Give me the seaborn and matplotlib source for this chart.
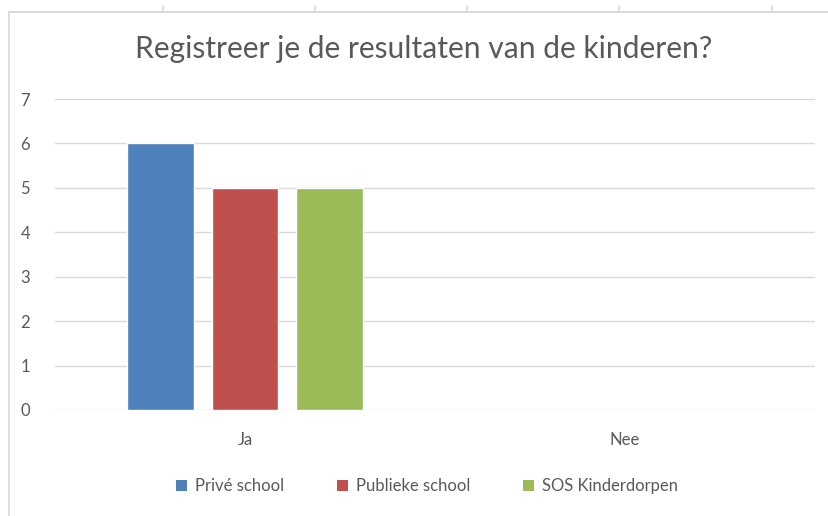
import matplotlib
matplotlib.use("Agg")
import matplotlib.pyplot as plt
import seaborn as sns
import pandas as pd
from matplotlib.lines import Line2D
from matplotlib.patches import Rectangle

categories = ["Ja", "Nee"]
series_names = ["Privé school", "Publieke school", "SOS Kinderdorpen"]
prive = [6, 0]
publiek = [5, 0]
sos = [5, 0]
yticks = [0, 1, 2, 3, 4, 5, 6, 7]
title = "Registreer je de resultaten van de kinderen?"
colors = ["#4F81BD", "#C0504D", "#9BBB59"]

rows = []
for name, vals in zip(series_names, [prive, publiek, sos]):
    for c, v in zip(categories, vals):
        rows.append({"cat": c, "serie": name, "val": v})
df = pd.DataFrame(rows)

sns.set_theme(style="white")
plt.rcParams['font.family'] = ['Lato', 'DejaVu Sans']
txt = "#595959"

fig = plt.figure(figsize=(8.29, 5.16), dpi=100)
fig.patch.set_facecolor("white")
ax = fig.add_axes([55/829, 1-410/516, (815-55)/829, (410-99)/516])

sns.barplot(data=df, x="cat", y="val", hue="serie", order=categories,
            hue_order=series_names, palette=colors, width=0.667, gap=0.21,
            saturation=1, ax=ax, legend=False)

ax.set_ylim(0, 7)
ax.set_yticks(yticks)
ax.set_xlim(-0.5, 1.5)
ax.yaxis.grid(True, color="#D9D9D9", linewidth=1)
ax.set_axisbelow(True)
for s in ax.spines.values():
    s.set_visible(False)
ax.set_xlabel("")
ax.set_ylabel("")
ax.tick_params(axis="y", length=0, pad=18, labelsize=12, labelcolor=txt)
ax.tick_params(axis="x", length=0, pad=16, labelsize=12, labelcolor=txt)
for lab in ax.get_yticklabels():
    lab.set_horizontalalignment("right")

fig.text(424/829, 1-49/516, title, ha="center", va="center", fontsize=21.6, color=txt)

handles = [Rectangle((0, 0), 1, 1, facecolor=c, edgecolor="none") for c in colors]
fig.legend(handles, series_names, loc="center", bbox_to_anchor=(427/829, 1-486/516),
           ncol=3, frameon=False, fontsize=12, handlelength=0.65, handleheight=0.65,
           handletextpad=0.45, columnspacing=3.2, labelcolor=txt)

# sheet border lines
border = "#D9D9D9"
fig.add_artist(Line2D([9/829, 1], [1-12/516, 1-12/516], color=border, lw=1.5))
fig.add_artist(Line2D([9/829, 9/829], [0, 1-12/516], color=border, lw=1.2))
for xp in [163, 315, 467, 619, 772]:
    fig.add_artist(Line2D([xp/829, xp/829], [1-12/516, 1-6/516], color=border, lw=1.2))

fig.savefig("out.png", dpi=100, facecolor="white")
